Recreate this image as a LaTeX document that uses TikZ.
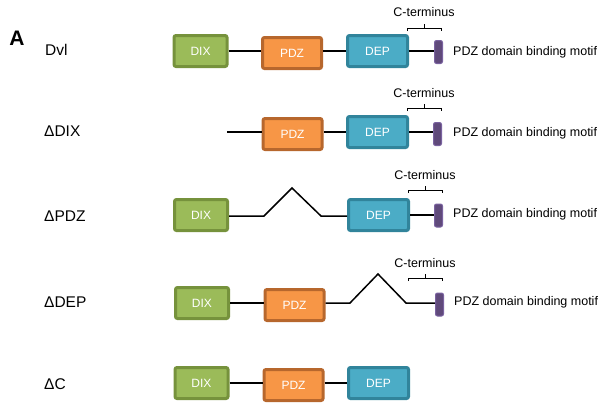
\documentclass[tikz,border=0pt]{standalone}
\usepackage{fontspec}
\setmainfont{Liberation Sans}
\definecolor{dixfill}{HTML}{9BBB59}
\definecolor{dixline}{HTML}{76923C}
\definecolor{pdzfill}{HTML}{F79646}
\definecolor{pdzline}{HTML}{B7672D}
\definecolor{depfill}{HTML}{4BACC6}
\definecolor{depline}{HTML}{31849B}
\definecolor{motiffill}{HTML}{604A7B}
\definecolor{motifline}{HTML}{7A62A0}
\begin{document}
\begin{tikzpicture}[x=1pt,y=-1pt,
  dom/.style={rounded corners=2pt,line width=3pt,minimum width=53pt,minimum height=31pt,inner sep=0pt,text=white,font=\fontsize{12}{14}\selectfont},
  dixbox/.style={dom,draw=dixline,fill=dixfill},
  pdzbox/.style={dom,draw=pdzline,fill=pdzfill,minimum width=59pt},
  depbox/.style={dom,draw=depline,fill=depfill,minimum width=60pt},
  motif/.style={rounded corners=2pt,draw=motifline,line width=1pt,fill=motiffill,minimum width=8pt,minimum height=23pt,inner sep=0pt},
  conn/.style={line width=1.5pt,black},
  brack/.style={line width=1pt,black},
  rowlabel/.style={anchor=west,inner sep=0pt,font=\fontsize{15.5}{18}\selectfont},
  small/.style={inner sep=0pt,font=\fontsize{12.5}{15}\selectfont}
]
\useasboundingbox (0,0) rectangle (600,402);
\node[inner sep=0pt,font=\bfseries\fontsize{21}{24}\selectfont] (A) at (17,38.5) {A};

% Row 1
\node[rowlabel] (l1) at (45,49.5) {Dvl};
\node[dixbox] (dix1) at (200.5,51) {DIX};
\node[pdzbox] (pdz1) at (292,53) {PDZ};
\node[depbox] (dep1) at (377.5,51) {DEP};
\node[motif] (m1) at (438.5,52) {};
\draw[conn] (dix1.east) -- (dix1.east -| pdz1.west);
\draw[conn] (dep1.west -| pdz1.east) -- (dep1.west);
\draw[conn] (dep1.east) -- (dep1.east -| m1.west);
\node[small] (ct1) at (424,12) {C-terminus};
\coordinate (b1l) at (407,31); \coordinate (b1r) at (441,31);
\draw[brack] (b1l) -- ++(0,-3) -| (b1r);
\draw[brack] (ct1.south |- 0,28) -- ++(0,-4);
\node[small,anchor=west] (t1) at (453,52) {PDZ domain binding motif};

% Row 2
\node[rowlabel] (l2) at (44,131.5) {ΔDIX};
\coordinate (s2) at (227,132);
\node[pdzbox] (pdz2) at (292.5,134) {PDZ};
\node[depbox] (dep2) at (377.5,132) {DEP};
\node[motif] (m2) at (437.5,134) {};
\draw[conn] (s2) -- (s2 -| pdz2.west);
\draw[conn] (dep2.west -| pdz2.east) -- (dep2.west);
\draw[conn] (dep2.east) -- (dep2.east -| m2.west);
\node[small] (ct2) at (424,93) {C-terminus};
\coordinate (b2l) at (407,111); \coordinate (b2r) at (441,111);
\draw[brack] (b2l) -- ++(0,-3) -| (b2r);
\draw[brack] (ct2.south |- 0,108) -- ++(0,-4);
\node[small,anchor=west] (t2) at (453,133) {PDZ domain binding motif};

% Row 3
\node[rowlabel] (l3) at (44,216) {ΔPDZ};
\node[dixbox] (dix3) at (201,215) {DIX};
\node[depbox] (dep3) at (378.5,215) {DEP};
\node[motif] (m3) at (438.5,215.5) {};
\coordinate (z3a) at (264,216);
\coordinate (z3b) at (292,188);
\coordinate (z3c) at (321,216);
\draw[conn] (dix3.east |- z3a) -- (z3a) -- (z3b) -- (z3c) -- (z3c -| dep3.west);
\draw[conn] (dep3.east) -- (dep3.east -| m3.west);
\node[small] (ct3) at (425,175) {C-terminus};
\coordinate (b3l) at (408,193); \coordinate (b3r) at (442,193);
\draw[brack] (b3l) -- ++(0,-3) -| (b3r);
\draw[brack] (ct3.south |- 0,190) -- ++(0,-4);
\node[small,anchor=west] (t3) at (453,214) {PDZ domain binding motif};

% Row 4
\node[rowlabel] (l4) at (44,302.5) {ΔDEP};
\node[dixbox] (dix4) at (202,303) {DIX};
\node[pdzbox] (pdz4) at (294.5,305) {PDZ};
\node[motif] (m4) at (439.5,304.5) {};
\draw[conn] (dix4.east) -- (dix4.east -| pdz4.west);
\coordinate (z4a) at (350,303);
\coordinate (z4b) at (378,274);
\coordinate (z4c) at (406,303);
\draw[conn] (pdz4.east |- z4a) -- (z4a) -- (z4b) -- (z4c) -- (z4c -| m4.west);
\node[small] (ct4) at (425,263) {C-terminus};
\coordinate (b4l) at (408,281); \coordinate (b4r) at (442,281);
\draw[brack] (b4l) -- ++(0,-3) -| (b4r);
\draw[brack] (ct4.south |- 0,278) -- ++(0,-4);
\node[small,anchor=west] (t4) at (454,302) {PDZ domain binding motif};

% Row 5
\node[rowlabel] (l5) at (44,384) {ΔC};
\node[dixbox] (dix5) at (201.5,383) {DIX};
\node[pdzbox] (pdz5) at (293.5,385) {PDZ};
\node[depbox] (dep5) at (378.5,383) {DEP};
\draw[conn] (dix5.east) -- (dix5.east -| pdz5.west);
\draw[conn] (dep5.west -| pdz5.east) -- (dep5.west);
\end{tikzpicture}
\end{document}
